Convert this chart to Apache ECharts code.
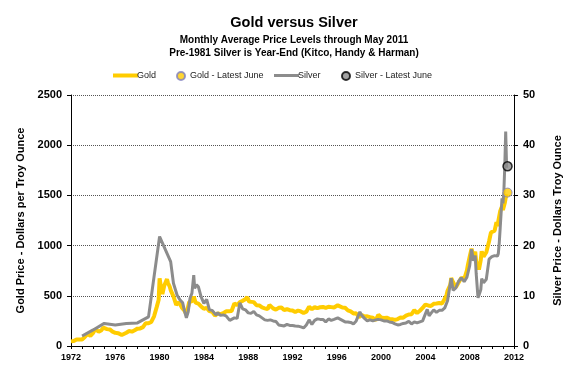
<!DOCTYPE html>
<html><head><meta charset="utf-8">
<script src="https://cdn.jsdelivr.net/npm/echarts@6/dist/echarts.min.js"></script>
<style>html,body{margin:0;padding:0;background:#fff}#c{width:577px;height:378px}</style>
</head><body><div id="c"></div>
<script>
// Gold monthly average (USD / troy oz)
const goldDates = ['1972-01','1972-04','1972-07','1972-10','1973-01','1973-04','1973-07','1973-10','1974-01','1974-03','1974-04','1974-07','1974-10','1974-12','1975-01','1975-04','1975-07','1975-10','1976-01','1976-04','1976-08','1976-10','1977-01','1977-04','1977-07','1977-10','1978-01','1978-04','1978-07','1978-10','1979-01','1979-04','1979-07','1979-10','1979-12','1980-01','1980-03','1980-04','1980-06','1980-09','1980-10','1980-12','1981-01','1981-04','1981-07','1981-10','1982-01','1982-04','1982-06','1982-09','1982-12','1983-02','1983-04','1983-07','1983-10','1984-01','1984-04','1984-07','1984-10','1985-01','1985-04','1985-07','1985-10','1986-01','1986-04','1986-07','1986-10','1987-01','1987-04','1987-07','1987-10','1987-12','1988-02','1988-04','1988-07','1988-10','1989-01','1989-04','1989-07','1989-10','1989-12','1990-02','1990-04','1990-07','1990-10','1991-01','1991-04','1991-07','1991-10','1992-01','1992-04','1992-07','1992-10','1993-01','1993-04','1993-07','1993-10','1994-01','1994-04','1994-07','1994-10','1995-01','1995-04','1995-07','1995-10','1996-02','1996-04','1996-07','1996-10','1997-01','1997-04','1997-07','1997-10','1998-01','1998-04','1998-07','1998-10','1999-01','1999-04','1999-07','1999-10','2000-01','2000-04','2000-07','2000-10','2001-01','2001-04','2001-07','2001-10','2002-01','2002-04','2002-07','2002-10','2003-01','2003-04','2003-07','2003-10','2004-01','2004-04','2004-07','2004-10','2005-01','2005-04','2005-07','2005-10','2005-12','2006-01','2006-04','2006-05','2006-07','2006-10','2007-01','2007-04','2007-07','2007-10','2007-11','2008-01','2008-03','2008-05','2008-07','2008-08','2008-10','2008-11','2009-01','2009-02','2009-04','2009-07','2009-10','2009-12','2010-01','2010-04','2010-06','2010-07','2010-10','2010-12','2011-01','2011-02','2011-03','2011-04','2011-05'];
const goldPrices = [46,49,65,64,65,90,120,100,130,168,172,143,158,183,176,168,165,143,131,128,110,117,132,149,143,158,173,175,188,227,227,240,296,392,460,675,553,517,600,666,630,590,557,494,409,437,384,350,315,436,447,491,432,423,394,370,381,347,340,303,325,317,326,345,345,348,423,408,438,450,466,486,442,452,437,406,404,384,375,367,409,417,375,362,380,383,357,368,357,354,338,353,344,329,342,392,367,386,377,386,389,379,391,387,383,405,392,383,381,355,344,324,325,289,308,293,296,287,282,256,311,284,280,282,270,266,260,268,283,282,302,314,317,356,328,351,379,413,404,398,420,424,429,424,470,510,550,610,676,634,586,632,679,665,754,806,889,968,889,940,839,812,760,858,943,890,934,1043,1130,1118,1149,1233,1193,1342,1391,1356,1372,1424,1474,1512];
// Silver: pre-1981 year-end, then monthly average (USD / troy oz)
const silverDates = ['1972-12-31','1973-12-31','1974-12-31','1975-12-31','1976-12-31','1977-12-31','1978-12-31','1979-12-31','1980-12-31','1981-04','1981-08','1981-11','1982-02','1982-04','1982-06','1982-08','1982-10','1982-12','1983-02','1983-03','1983-05','1983-07','1983-10','1984-01','1984-04','1984-07','1984-10','1985-02','1985-04','1985-07','1985-10','1986-01','1986-05','1986-07','1986-10','1987-01','1987-04','1987-05','1987-07','1987-10','1988-01','1988-04','1988-07','1988-10','1989-01','1989-04','1989-07','1989-10','1990-01','1990-04','1990-07','1990-10','1991-01','1991-04','1991-07','1991-10','1992-01','1992-04','1992-07','1992-10','1993-01','1993-04','1993-07','1993-10','1994-01','1994-04','1994-07','1994-10','1995-01','1995-04','1995-07','1995-10','1996-02','1996-04','1996-07','1996-10','1997-01','1997-04','1997-07','1997-10','1997-12','1998-02','1998-04','1998-07','1998-10','1999-01','1999-04','1999-07','1999-10','2000-01','2000-04','2000-07','2000-10','2001-01','2001-04','2001-07','2001-10','2002-01','2002-04','2002-07','2002-10','2003-01','2003-04','2003-07','2003-10','2004-01','2004-03','2004-05','2004-07','2004-10','2005-01','2005-04','2005-07','2005-10','2006-01','2006-04','2006-05','2006-07','2006-10','2007-01','2007-04','2007-07','2007-10','2008-01','2008-03','2008-05','2008-07','2008-08','2008-10','2008-11','2009-01','2009-02','2009-04','2009-07','2009-10','2009-12','2010-01','2010-04','2010-07','2010-08','2010-09','2010-10','2010-12','2011-01','2011-02','2011-03','2011-04','2011-05'];
const silverPrices = [2.0,3.2,4.5,4.2,4.5,4.6,5.8,21.8,16.8,12.5,10.1,9.2,8.6,7.0,5.6,6.8,9.5,10.5,14.1,11.5,12.2,11.8,9.8,8.5,9.3,7.2,7.1,6.2,6.6,6.1,6.2,6.0,5.1,5.0,5.6,5.5,8.6,8.2,7.4,7.2,6.6,6.5,6.9,6.2,6.0,5.6,5.2,5.1,5.2,5.0,4.9,4.2,4.1,4.0,4.3,4.1,4.1,4.0,3.95,3.8,3.6,4.2,5.2,4.3,5.1,5.4,5.3,5.3,4.8,5.4,5.1,5.3,5.6,5.3,5.1,4.8,4.8,4.7,4.4,5.0,5.9,6.8,6.1,5.5,5.0,5.2,5.0,5.2,5.3,5.2,5.0,5.0,4.8,4.7,4.4,4.2,4.3,4.5,4.6,4.9,4.4,4.8,4.6,4.8,5.0,6.4,7.3,6.0,6.5,7.2,6.7,7.1,7.1,7.6,9.0,12.5,13.5,11.1,11.6,12.9,13.6,12.8,13.7,16.0,19.3,17.0,18.0,14.5,9.6,10.1,11.2,13.4,12.6,13.3,17.3,17.6,17.8,18.0,17.9,18.4,20.5,23.4,29.4,28.4,30.7,35.8,42.7,35.5];
const goldLatestDate = '2011-06';
const goldLatest = 1528;
const silverLatestDate = '2011-06';
const silverLatest = 35.8;
const yearLabels = [1972,1976,1980,1984,1988,1992,1996,2000,2004,2008,2012];

function toYear(s){
  const p = s.split('-').map(Number);
  let v = p[0] + (p[1]-1)/12;
  if (p.length > 2) v += (p[2]-1)/365;
  return v;
}
const goldData = goldDates.map((d,i)=>[toYear(d), goldPrices[i]]);
const silverData = silverDates.map((d,i)=>[toYear(d), silverPrices[i]]);

const FONT = 'Arial, "Liberation Sans", sans-serif';
const chart = echarts.init(document.getElementById('c'), null, {renderer:'canvas'});
const legendText = {color:'#222', fontFamily:FONT, fontSize:9};
chart.setOption({
  animation:false,
  backgroundColor:'#fff',
  title:{
    text:'Gold versus Silver',
    subtext:'Monthly Average Price Levels through May 2011\nPre-1981 Silver is Year-End (Kitco, Handy & Harman)',
    left:289, top:10, textAlign:'center', itemGap:4,
    textStyle:{fontFamily:FONT, fontSize:14.5, fontWeight:'bold', color:'#000'},
    subtextStyle:{fontFamily:FONT, fontSize:10, fontWeight:'bold', color:'#000', lineHeight:13}
  },
  legend:[
    {data:[{name:'Gold', icon:'rect'}], left:108, top:66, itemWidth:25, itemHeight:4, textStyle:Object.assign({padding:[0,0,0,-6]},legendText), selectedMode:false},
    {data:[{name:'Gold - Latest June', icon:'circle'}], left:171, top:66, itemWidth:8, itemHeight:8, textStyle:legendText, selectedMode:false},
    {data:[{name:'Silver', icon:'rect'}], left:269, top:66, itemWidth:25, itemHeight:3, textStyle:Object.assign({padding:[0,0,0,-6]},legendText), selectedMode:false},
    {data:[{name:'Silver - Latest June', icon:'circle'}], left:336, top:66, itemWidth:8, itemHeight:8, textStyle:legendText, selectedMode:false}
  ],
  grid:{left:71, right:63, top:95, bottom:32},
  xAxis:{
    type:'value', min:1972, max:2012, interval:1,
    axisLine:{lineStyle:{color:'#000', width:1}},
    axisTick:{length:3, lineStyle:{color:'#000'}},
    axisLabel:{fontFamily:FONT, fontSize:9, fontWeight:'bold', color:'#000', margin:7,
      formatter:v=> yearLabels.indexOf(v) >= 0 ? String(v) : ''},
    splitLine:{show:false}
  },
  yAxis:[
    {type:'value', min:0, max:2500, interval:500, position:'left',
     name:'Gold Price - Dollars per Troy Ounce', nameLocation:'middle', nameGap:43,
     nameTextStyle:{fontFamily:FONT, fontSize:11, fontWeight:'bold', color:'#000'},
     axisLine:{show:true, lineStyle:{color:'#000'}},
     axisTick:{show:true, length:4, lineStyle:{color:'#000'}},
     axisLabel:{fontFamily:FONT, fontSize:11, fontWeight:'bold', color:'#000', margin:9, formatter:v=>String(v)},
     splitLine:{show:true, lineStyle:{color:'#555', type:'dotted', width:1}}},
    {type:'value', min:0, max:50, interval:10, position:'right',
     name:'Silver Price - Dollars Troy Ounce', nameLocation:'middle', nameGap:38, nameRotate:90,
     nameTextStyle:{fontFamily:FONT, fontSize:11, fontWeight:'bold', color:'#000'},
     axisLine:{show:true, lineStyle:{color:'#000'}},
     axisTick:{show:true, length:4, lineStyle:{color:'#000'}},
     axisLabel:{fontFamily:FONT, fontSize:11, fontWeight:'bold', color:'#000', margin:9},
     splitLine:{show:false}}
  ],
  series:[
    {name:'Gold', type:'line', data:goldData, yAxisIndex:0, showSymbol:false, symbol:'none',
     lineStyle:{color:'#FFCC00', width:4}, itemStyle:{color:'#FFCC00'}, z:2},
    {name:'Silver', type:'line', data:silverData, yAxisIndex:1, showSymbol:false, symbol:'none',
     lineStyle:{color:'#8C8C8C', width:3}, itemStyle:{color:'#8C8C8C'}, z:3},
    {name:'Gold - Latest June', type:'scatter', yAxisIndex:0, data:[[toYear(goldLatestDate), goldLatest]],
     symbol:'circle', symbolSize:9, itemStyle:{color:'#FFCC00', borderColor:'#7F7FBF', borderWidth:1}, z:5},
    {name:'Silver - Latest June', type:'scatter', yAxisIndex:1, data:[[toYear(silverLatestDate), silverLatest]],
     symbol:'circle', symbolSize:9, itemStyle:{color:'#8C8C8C', borderColor:'#000', borderWidth:1.5}, z:5}
  ]
});
</script>
</body></html>
